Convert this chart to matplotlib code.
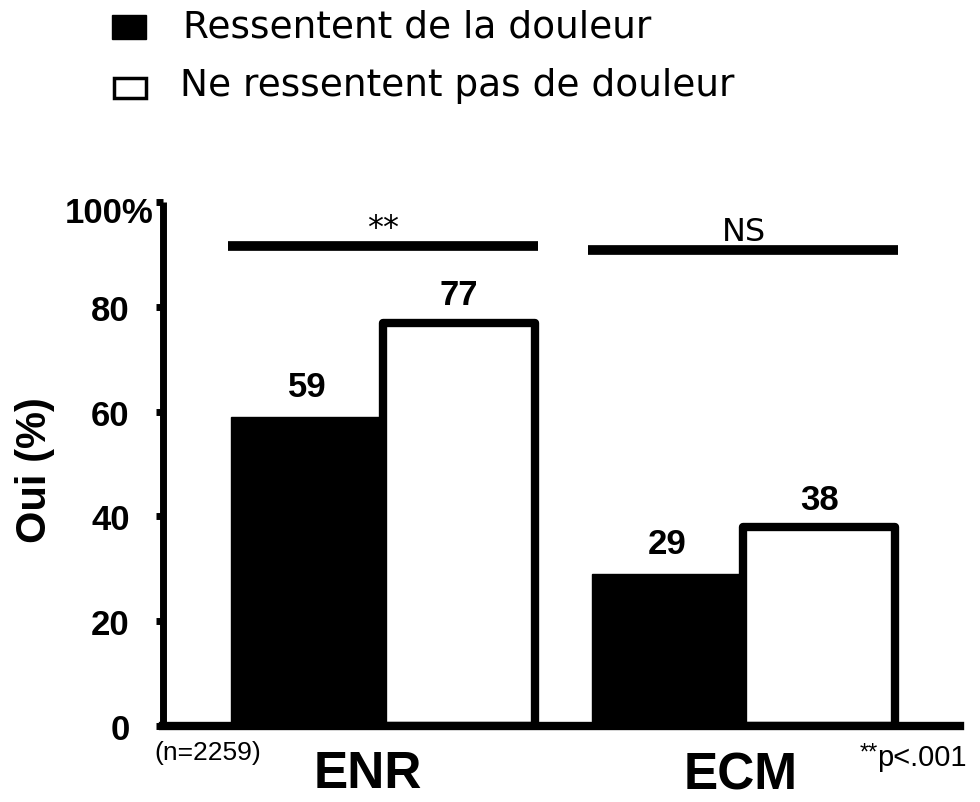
import matplotlib
matplotlib.use("Agg")
import matplotlib.pyplot as plt
from matplotlib.patches import Rectangle
from matplotlib.transforms import ScaledTranslation

groups = ["ENR", "ECM"]
series = ["Ressentent de la douleur", "Ne ressentent pas de douleur"]
pain = [59, 29]
no_pain = [77, 38]
sig_labels = ["**", "NS"]
sig_levels = [91.6, 90.8]
yticks = [0, 20, 40, 60, 80, 100]
ytick_labels = ["0", "20", "40", "60", "80", "100%"]

plt.rcParams['font.family'] = ['Liberation Sans', 'DejaVu Sans']

fig = plt.figure(figsize=(9.8, 8.03), dpi=100)
ax = fig.add_axes([163 / 980, 1 - 727 / 803, 797 / 980, 524 / 803])

centers = [1.42, 3.745]
w = 0.98
for i, c in enumerate(centers):
    ax.bar(c - w / 2, pain[i], width=w, color="black", edgecolor="black", linewidth=1)
    ax.bar(c + w / 2, no_pain[i], width=w, color="white", edgecolor="black", linewidth=6,
           joinstyle="round", zorder=2)
    ax.annotate(str(pain[i]), (c - w / 2, pain[i]), xytext=(0, 15), textcoords="offset points",
                ha="center", va="baseline", fontsize=25, fontweight="bold")
    ax.annotate(str(no_pain[i]), (c + w / 2, no_pain[i]), xytext=(0, 13), textcoords="offset points",
                ha="center", va="baseline", fontsize=25, fontweight="bold")
    x0 = c - 1.0
    x1 = c + 1.0
    ax.plot([x0, x1], [sig_levels[i], sig_levels[i]], color="black", linewidth=7, solid_capstyle="butt")
    ax.annotate(sig_labels[i], ((x0 + x1) / 2, sig_levels[i]), xytext=(0, 7), textcoords="offset points",
                ha="center", va="baseline", fontsize=23, family=["DejaVu Sans"])

ax.set_xlim(0, 797 / 155)
ax.set_ylim(0, 100)
ax.set_yticks(yticks)
ax.set_yticklabels(ytick_labels, fontsize=25, fontweight="bold")
ax.set_xticks([])
ax.tick_params(axis="y", direction="out", length=5, width=5, pad=19)
lab100 = ax.get_yticklabels()[-1]
lab100.set_transform(lab100.get_transform() + ScaledTranslation(0.24, -0.07, fig.dpi_scale_trans))
for s in ["top", "right"]:
    ax.spines[s].set_visible(False)
ax.spines["left"].set_linewidth(5)
ax.spines["bottom"].set_linewidth(6)
ax.spines["left"].set_capstyle("butt")
ax.set_ylabel("Oui (%)", fontsize=30, fontweight="bold")
ax.yaxis.set_label_coords(-0.136, 0.49)

group_label_y = [-11.7, -11.9]
group_label_dx = [-0.1, -0.02]
for c, g, gy, dx in zip(centers, groups, group_label_y, group_label_dx):
    ax.text(c + dx, gy, g, ha="center", va="baseline", fontsize=37, fontweight="bold")

ax.text(-0.011, -0.027, "(n=2259)", transform=ax.transAxes, ha="left", va="top", fontsize=19)
ptxt = ax.text(1.008, -0.032, "p<.001", transform=ax.transAxes, ha="right", va="top", fontsize=21)
ax.annotate("**", xy=(0, 1), xycoords=ptxt, xytext=(1, 1), textcoords="offset points",
            ha="right", va="top", fontsize=17)

# legend
fig.add_artist(Rectangle((112 / 980, 1 - 40 / 803), 34 / 980, 24 / 803, transform=fig.transFigure,
                         facecolor="black", edgecolor="black", linewidth=1))
fig.add_artist(Rectangle((114 / 980, 1 - 99 / 803), 32 / 980, 20 / 803, transform=fig.transFigure,
                         facecolor="white", edgecolor="black", linewidth=2.5))
fig.text(183 / 980, 1 - 28 / 803, series[0], ha="left", va="center", fontsize=27,
         family=["DejaVu Sans"])
fig.text(180 / 980, 1 - 86 / 803, series[1], ha="left", va="center", fontsize=27,
         family=["DejaVu Sans"])

fig.savefig("out.png", dpi=100)
